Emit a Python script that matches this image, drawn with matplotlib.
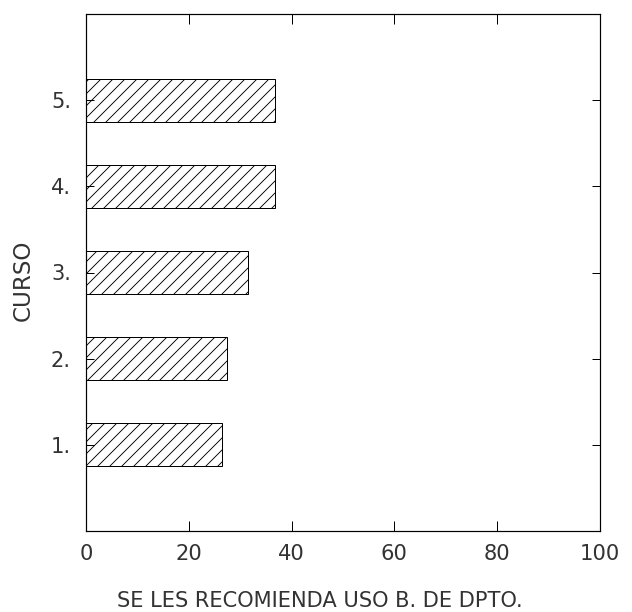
import matplotlib
matplotlib.use("Agg")
from matplotlib import pyplot as plt

# values
CURSOS = [1, 2, 3, 4, 5]
CURSO_LABELS = ['1.', '2.', '3.', '4.', '5.']
PERCENT = [26.5, 27.5, 31.5, 36.7, 36.7]
X_TICKS = [0, 20, 40, 60, 80, 100]

DPI = 72
plt.rcParams['font.family'] = ['DejaVu Sans']
plt.rcParams['hatch.linewidth'] = 0.9

fig = plt.figure(figsize=(632 / DPI, 612 / DPI), dpi=DPI)
ax = fig.add_axes([86 / 632, 1 - 531 / 612, (600 - 86) / 632, (531 - 14) / 612])

ax.barh(CURSOS, PERCENT, height=0.5, color='white', edgecolor='black',
        linewidth=1.0, hatch='//')

ax.set_xlim(0, 100)
ax.set_ylim(0, 6)
ax.set_xticks(X_TICKS)
ax.set_xticklabels([str(t) for t in X_TICKS])
ax.set_yticks(CURSOS)
ax.set_yticklabels(CURSO_LABELS)

ax.tick_params(axis='x', direction='in', length=10, width=1, top=True,
               labelsize=21, pad=13, colors='black', labelcolor='#333333')
ax.tick_params(axis='y', direction='in', length=8, width=1, right=True,
               labelsize=21, pad=15, colors='black', labelcolor='#333333')
for sp in ax.spines.values():
    sp.set_linewidth(1.2)

ax.set_xlabel('SE LES RECOMIENDA USO B. DE DPTO.', fontsize=21,
              color='#333333', va='center')
ax.xaxis.set_label_coords(0.455, -0.135)
ax.set_ylabel('CURSO', fontsize=23, color='#333333', va='center')
ax.yaxis.set_label_coords(-0.123, 0.485)

fig.savefig('out.png', dpi=DPI)
